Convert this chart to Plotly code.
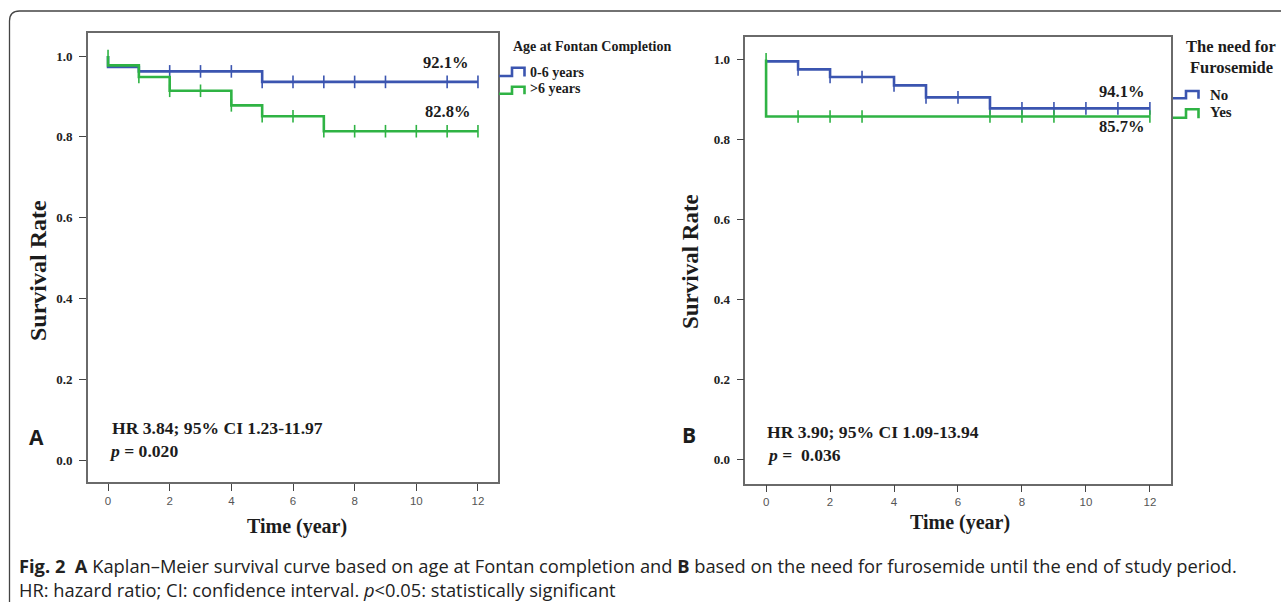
import plotly.graph_objects as go

W, H = 1281, 607

# ---------------- Data ----------------
# Panel A: age at Fontan completion
a_young_t = [0, 0, 1, 5, 12]
a_young_s = [1.0, 0.973, 0.962, 0.936, 0.936]
a_young_cens_t = [1, 2, 3, 4, 5, 6, 7, 8, 9, 11, 12]
a_young_cens_s = [0.962, 0.962, 0.962, 0.962, 0.936, 0.936, 0.936, 0.936, 0.936, 0.936, 0.936]

a_old_t = [0, 0, 1, 2, 4, 5, 7, 12]
a_old_s = [1.0, 0.977, 0.948, 0.914, 0.878, 0.851, 0.814, 0.814]
a_old_cens_t = [0, 1, 2, 3, 4, 5, 6, 7, 8, 9, 10, 11, 12]
a_old_cens_s = [1.0, 0.948, 0.914, 0.914, 0.878, 0.851, 0.851, 0.814, 0.814, 0.814, 0.814, 0.814, 0.814]

# Panel B: need for furosemide
b_no_t = [0, 1, 2, 4, 5, 7, 12]
b_no_s = [0.995, 0.975, 0.956, 0.935, 0.905, 0.8775, 0.8775]
b_no_cens_t = [1, 2, 3, 4, 5, 6, 7, 8, 9, 10, 11, 12]
b_no_cens_s = [0.975, 0.956, 0.956, 0.935, 0.905, 0.905, 0.8775, 0.8775, 0.8775, 0.8775, 0.8775, 0.8775]

b_yes_t = [0, 0, 12]
b_yes_s = [1.0, 0.857, 0.857]
b_yes_cens_t = [0, 1, 2, 3, 7, 8, 9, 12]
b_yes_cens_s = [1.0, 0.857, 0.857, 0.857, 0.857, 0.857, 0.857, 0.857]

x_ticks = [0, 2, 4, 6, 8, 10, 12]
y_ticks = [0.0, 0.2, 0.4, 0.6, 0.8, 1.0]
y_ticktext = ["0.0", "0.2", "0.4", "0.6", "0.8", "1.0"]

legend_a = ["0-6 years", ">6 years"]
legend_b = ["No", "Yes"]
pct_a = ["92.1%", "82.8%"]
pct_b = ["94.1%", "85.7%"]

BLUE = "#3b55b0"
GREEN = "#2fb344"
SERIF = "Liberation Serif, Times New Roman, serif"
SANS = "Liberation Sans, Arial, sans-serif"
CAP = "Open Sans, Noto Sans, sans-serif"
TXT = "#1c1c1c"


def px(x):
    return x / W


def py(y):
    return 1 - y / H


fig = go.Figure()


def add_km(t, s, ct, cs, color, xa, ya):
    fig.add_trace(go.Scatter(x=t, y=s, mode="lines", line=dict(color=color, width=2.6, shape="hv"),
                             xaxis=xa, yaxis=ya, showlegend=False, hoverinfo="skip"))
    fig.add_trace(go.Scatter(x=ct, y=cs, mode="markers",
                             marker=dict(symbol="line-ns", size=9, line=dict(color=color, width=1.6)),
                             xaxis=xa, yaxis=ya, showlegend=False, hoverinfo="skip"))


add_km(a_young_t, a_young_s, a_young_cens_t, a_young_cens_s, BLUE, "x", "y")
add_km(a_old_t, a_old_s, a_old_cens_t, a_old_cens_s, GREEN, "x", "y")
add_km(b_no_t, b_no_s, b_no_cens_t, b_no_cens_s, BLUE, "x2", "y2")
add_km(b_yes_t, b_yes_s, b_yes_cens_t, b_yes_cens_s, GREEN, "x2", "y2")

common_x = dict(tickvals=x_ticks, ticks="outside", ticklen=7, tickwidth=1.2, tickcolor="#444",
                showline=True, mirror=True, linecolor="#6a6a6a", linewidth=1.6,
                showgrid=False, zeroline=False,
                tickfont=dict(family=SANS, size=11.5, color="#555"))
common_y = dict(tickvals=y_ticks, ticktext=y_ticktext, ticks="outside", ticklen=7, tickwidth=1.2,
                tickcolor="#444", showline=True, mirror=True, linecolor="#6a6a6a", linewidth=1.6,
                showgrid=False, zeroline=False, ticklabelstandoff=4,
                tickfont=dict(family=SERIF, size=13, color="#222", weight="bold"))

fig.update_layout(
    width=W, height=H, margin=dict(l=0, r=0, t=0, b=0),
    paper_bgcolor="white", plot_bgcolor="white", showlegend=False,
    xaxis=dict(domain=[px(88), px(498)], range=[-0.65, 12.65], anchor="y", **common_x),
    yaxis=dict(domain=[py(482), py(33)], range=[-0.054, 1.057], anchor="x", **common_y),
    xaxis2=dict(domain=[px(745.3), px(1171)], range=[-0.65, 12.66], anchor="y2", **common_x),
    yaxis2=dict(domain=[py(483.5), py(37)], range=[-0.061, 1.056], anchor="x2", **common_y),
)

ann = []


def text(x, y, s, size, family=SERIF, bold=True, xanchor="center", color=TXT, angle=0, align="center"):
    ann.append(dict(x=px(x), y=py(y), xref="paper", yref="paper", text=s, showarrow=False,
                    xanchor=xanchor, yanchor="middle", textangle=angle, align=align,
                    font=dict(family=family, size=size, color=color, weight="bold" if bold else "normal")))


# percentages
text(445, 62, pct_a[0], 16.5)
text(447.7, 112, pct_a[1], 16.5)
text(1121, 92, pct_b[0], 16.5)
text(1121, 127, pct_b[1], 16.5)

# HR annotations
text(110, 428, "HR 3.84; 95% CI 1.23-11.97", 17.6, xanchor="left")
text(107, 451, "<i>p</i> = 0.020", 17.6, xanchor="left")
text(765, 432, "HR 3.90; 95% CI 1.09-13.94", 17.6, xanchor="left")
text(765, 455, "<i>p</i> =&nbsp; 0.036", 17.6, xanchor="left")

# panel letters
text(36.5, 437, "A", 21, family="Open Sans, sans-serif")
text(689, 435, "B", 21, family="Open Sans, sans-serif")

# axis titles
text(38, 271, "Survival Rate", 24, angle=-90)
text(691, 262, "Survival Rate", 23, angle=-90)
text(297, 526, "Time (year)", 20)
text(960, 522, "Time (year)", 20)

# legends
text(511, 46.5, "Age at Fontan Completion", 14, xanchor="left")
text(528, 72.5, legend_a[0], 14, xanchor="left")
text(528, 88.5, legend_a[1], 14, xanchor="left")
text(1231, 46, "The need for", 16.5)
text(1231, 67, "Furosemide", 16.5)
text(1208, 94.5, legend_b[0], 15, xanchor="left")
text(1208, 112, legend_b[1], 15, xanchor="left")

# caption (one two-line block)
text(17, 577, "<b>Fig. 2</b>&nbsp; <b>A</b> Kaplan–Meier survival curve based on age at Fontan completion and "
     "<b>B</b> based on the need for furosemide until the end of study period.<br>"
     "HR: hazard ratio; CI: confidence interval. <i>p</i>&lt;0.05: statistically significant", 18.3,
     family=CAP, bold=False, xanchor="left", color="#222", align="left")

fig.update_layout(annotations=ann)

shapes = []


def icon(x0, ylow, yhigh, color):
    x1 = x0 + 13
    x2 = x0 + 25.5
    path = (f"M {px(x0)},{py(ylow)} L {px(x1)},{py(ylow)} L {px(x1)},{py(yhigh)} "
            f"L {px(x2)},{py(yhigh)} L {px(x2)},{py(ylow + 0.5)}")
    shapes.append(dict(type="path", path=path, xref="paper", yref="paper",
                       line=dict(color=color, width=2.6)))


icon(499, 76, 67.7, BLUE)
icon(499, 93.7, 86.7, GREEN)
icon(1173, 98.3, 91, BLUE)
icon(1173, 117.7, 109.3, GREEN)

# figure card border
border = (f"M {px(9.5)},{py(602)} L {px(9.5)},{py(21)} Q {px(9.5)},{py(11)} {px(19.5)},{py(11)} "
          f"L {px(1300)},{py(11)}")
shapes.append(dict(type="path", path=border, xref="paper", yref="paper",
                   line=dict(color="#444", width=1.3)))

fig.update_layout(shapes=shapes)

fig.write_html("out.html", config={"displayModeBar": False},
               post_script="document.body.style.margin='0px';document.body.style.overflow='hidden';")
